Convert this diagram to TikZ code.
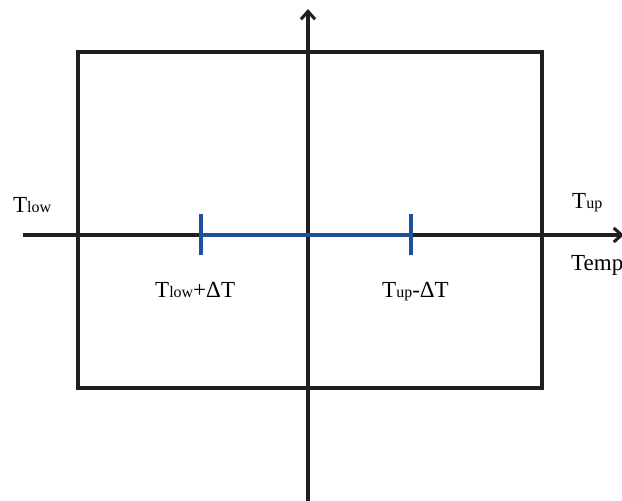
\documentclass[tikz,border=0pt]{standalone}
\usepackage{fontspec}
\setmainfont{Liberation Serif}
\usetikzlibrary{arrows.meta}
\definecolor{tblue}{RGB}{28,82,155}
\newcommand{\lsub}[1]{{\fontsize{16}{16}\selectfont #1}}
\begin{document}
\begin{tikzpicture}[x=1pt,y=-1pt,
  axis/.style={line width=3.1pt,draw=black!88},
  boxline/.style={line width=3.1pt,draw=black!88},
  bluebar/.style={line width=3.5pt,draw=tblue},
  lbl/.style={font=\fontsize{23}{23}\selectfont,anchor=base west,inner sep=0pt},
  tip/.style={-{Straight Barb[length=8pt,width=14pt,line width=3pt]}}]
\useasboundingbox (0,0) rectangle (622,501);
% coordinates
\coordinate (bl) at (78,388);
\coordinate (tr) at (542,52);
\coordinate (hxs) at (23,235);
\coordinate (hxe) at (624,235);
\coordinate (vys) at (308,501);
\coordinate (vye) at (308,9);
\coordinate (ba) at (201,235);
\coordinate (bb) at (411,235);
% box
\draw[boxline] (bl) rectangle (tr);
% axes
\draw[axis,tip] (hxs) -- (hxe);
\draw[axis,tip] (vys) -- (vye);
% blue interval
\draw[bluebar] (ba) -- (bb);
\draw[bluebar] ([yshift=-20pt]ba) -- ([yshift=21pt]ba);
\draw[bluebar] ([yshift=-20pt]bb) -- ([yshift=21pt]bb);
% labels
\node[lbl] (tlow) at (13,212) {T\lsub{low}};
\node[lbl] (tup) at (572,208) {T\lsub{up}};
\node[lbl] (temp) at (571,270) {Temp};
\node[lbl] (tlowd) at (155,297) {T\lsub{low}+ΔT};
\node[lbl] (tupd) at (382,297) {T\lsub{up}-ΔT};
\end{tikzpicture}
\end{document}
